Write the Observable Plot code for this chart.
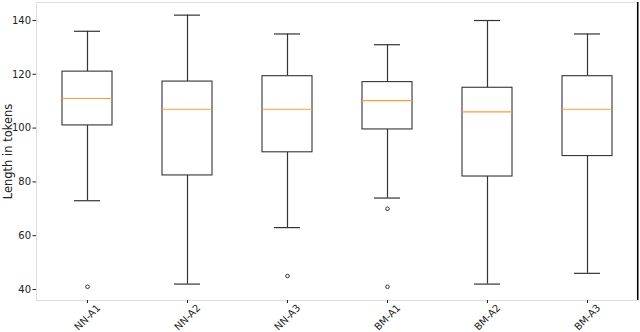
<!DOCTYPE html>
<html><head><meta charset="utf-8">
<script src="https://cdn.jsdelivr.net/npm/d3@7"></script>
<script src="https://cdn.jsdelivr.net/npm/@observablehq/plot@0.6"></script>
<style>
body{margin:0;background:#fff;}
svg{font-family:"DejaVu Sans",sans-serif;}
g[aria-label="y-axis label"] text{font-size:11.5px;}
</style>
</head><body><div id="chart"></div>
<script>
const categories = ["NN-A1","NN-A2","NN-A3","BM-A1","BM-A2","BM-A3"];
const whiskerLow  = [73, 42, 63, 74, 42, 46];
const q1          = [101, 82.4, 91, 99.5, 82, 89.6];
const median      = [111, 107, 107, 110.2, 106, 107];
const q3          = [121, 117.3, 119.3, 117.1, 115, 119.3];
const whiskerHigh = [136, 142, 135, 131, 140, 135];
const outlierCat  = ["NN-A1","NN-A3","BM-A1","BM-A1"];
const outlierVal  = [41, 45, 70, 41];
const yTicks = [40,60,80,100,120,140];

const stats = categories.map((c,i)=>({cat:c, lo:whiskerLow[i], q1:q1[i], med:median[i], q3:q3[i], hi:whiskerHigh[i]}));
const outliers = outlierCat.map((c,i)=>({cat:c, v:outlierVal[i]}));

const line = "#333";
const chart = Plot.plot({
  width: 640, height: 332,
  marginLeft: 36, marginRight: 2, marginTop: 2, marginBottom: 32,
  style: {fontSize: "10px", color: "#222", background: "#fff"},
  x: {domain: categories, padding: 0, label: null},
  y: {domain: [35.9, 146.7], label: null},
  marks: [
    Plot.frame({stroke: "#ddd"}),
    Plot.ruleX([categories[categories.length-1]], {dx: 50.2, stroke: "#000", strokeWidth: 1.5}),
    Plot.ruleX(stats, {x: "cat", y1: "q3", y2: "hi", stroke: line, strokeWidth: 1.2}),
    Plot.ruleX(stats, {x: "cat", y1: "lo", y2: "q1", stroke: line, strokeWidth: 1.2}),
    Plot.tickY(stats, {x: "cat", y: "hi", inset: 37, stroke: line, strokeWidth: 1.2}),
    Plot.tickY(stats, {x: "cat", y: "lo", inset: 37, stroke: line, strokeWidth: 1.2}),
    Plot.barY(stats, {x: "cat", y1: "q1", y2: "q3", insetLeft: 25, insetRight: 25, fill: "#fff", stroke: line, strokeWidth: 1.1}),
    Plot.tickY(stats, {x: "cat", y: "med", inset: 25, stroke: "#ff9a3c", strokeWidth: 1.2}),
    Plot.dot(outliers, {x: "cat", y: "v", r: 1.8, stroke: "#222", fill: "none", strokeWidth: 0.9}),
    Plot.axisY({ticks: yTicks, tickSize: 3.5, tickPadding: 2, label: "Length in tokens", labelAnchor: "center", labelOffset: 33, labelArrow: "none"}),
    Plot.axisX({tickSize: 3, text: null}),
    Plot.axisX({tickSize: 0, tickPadding: 17, tickRotate: -45, textAnchor: "middle", lineAnchor: "middle"})
  ]
});
document.getElementById("chart").append(chart);
</script></body></html>
